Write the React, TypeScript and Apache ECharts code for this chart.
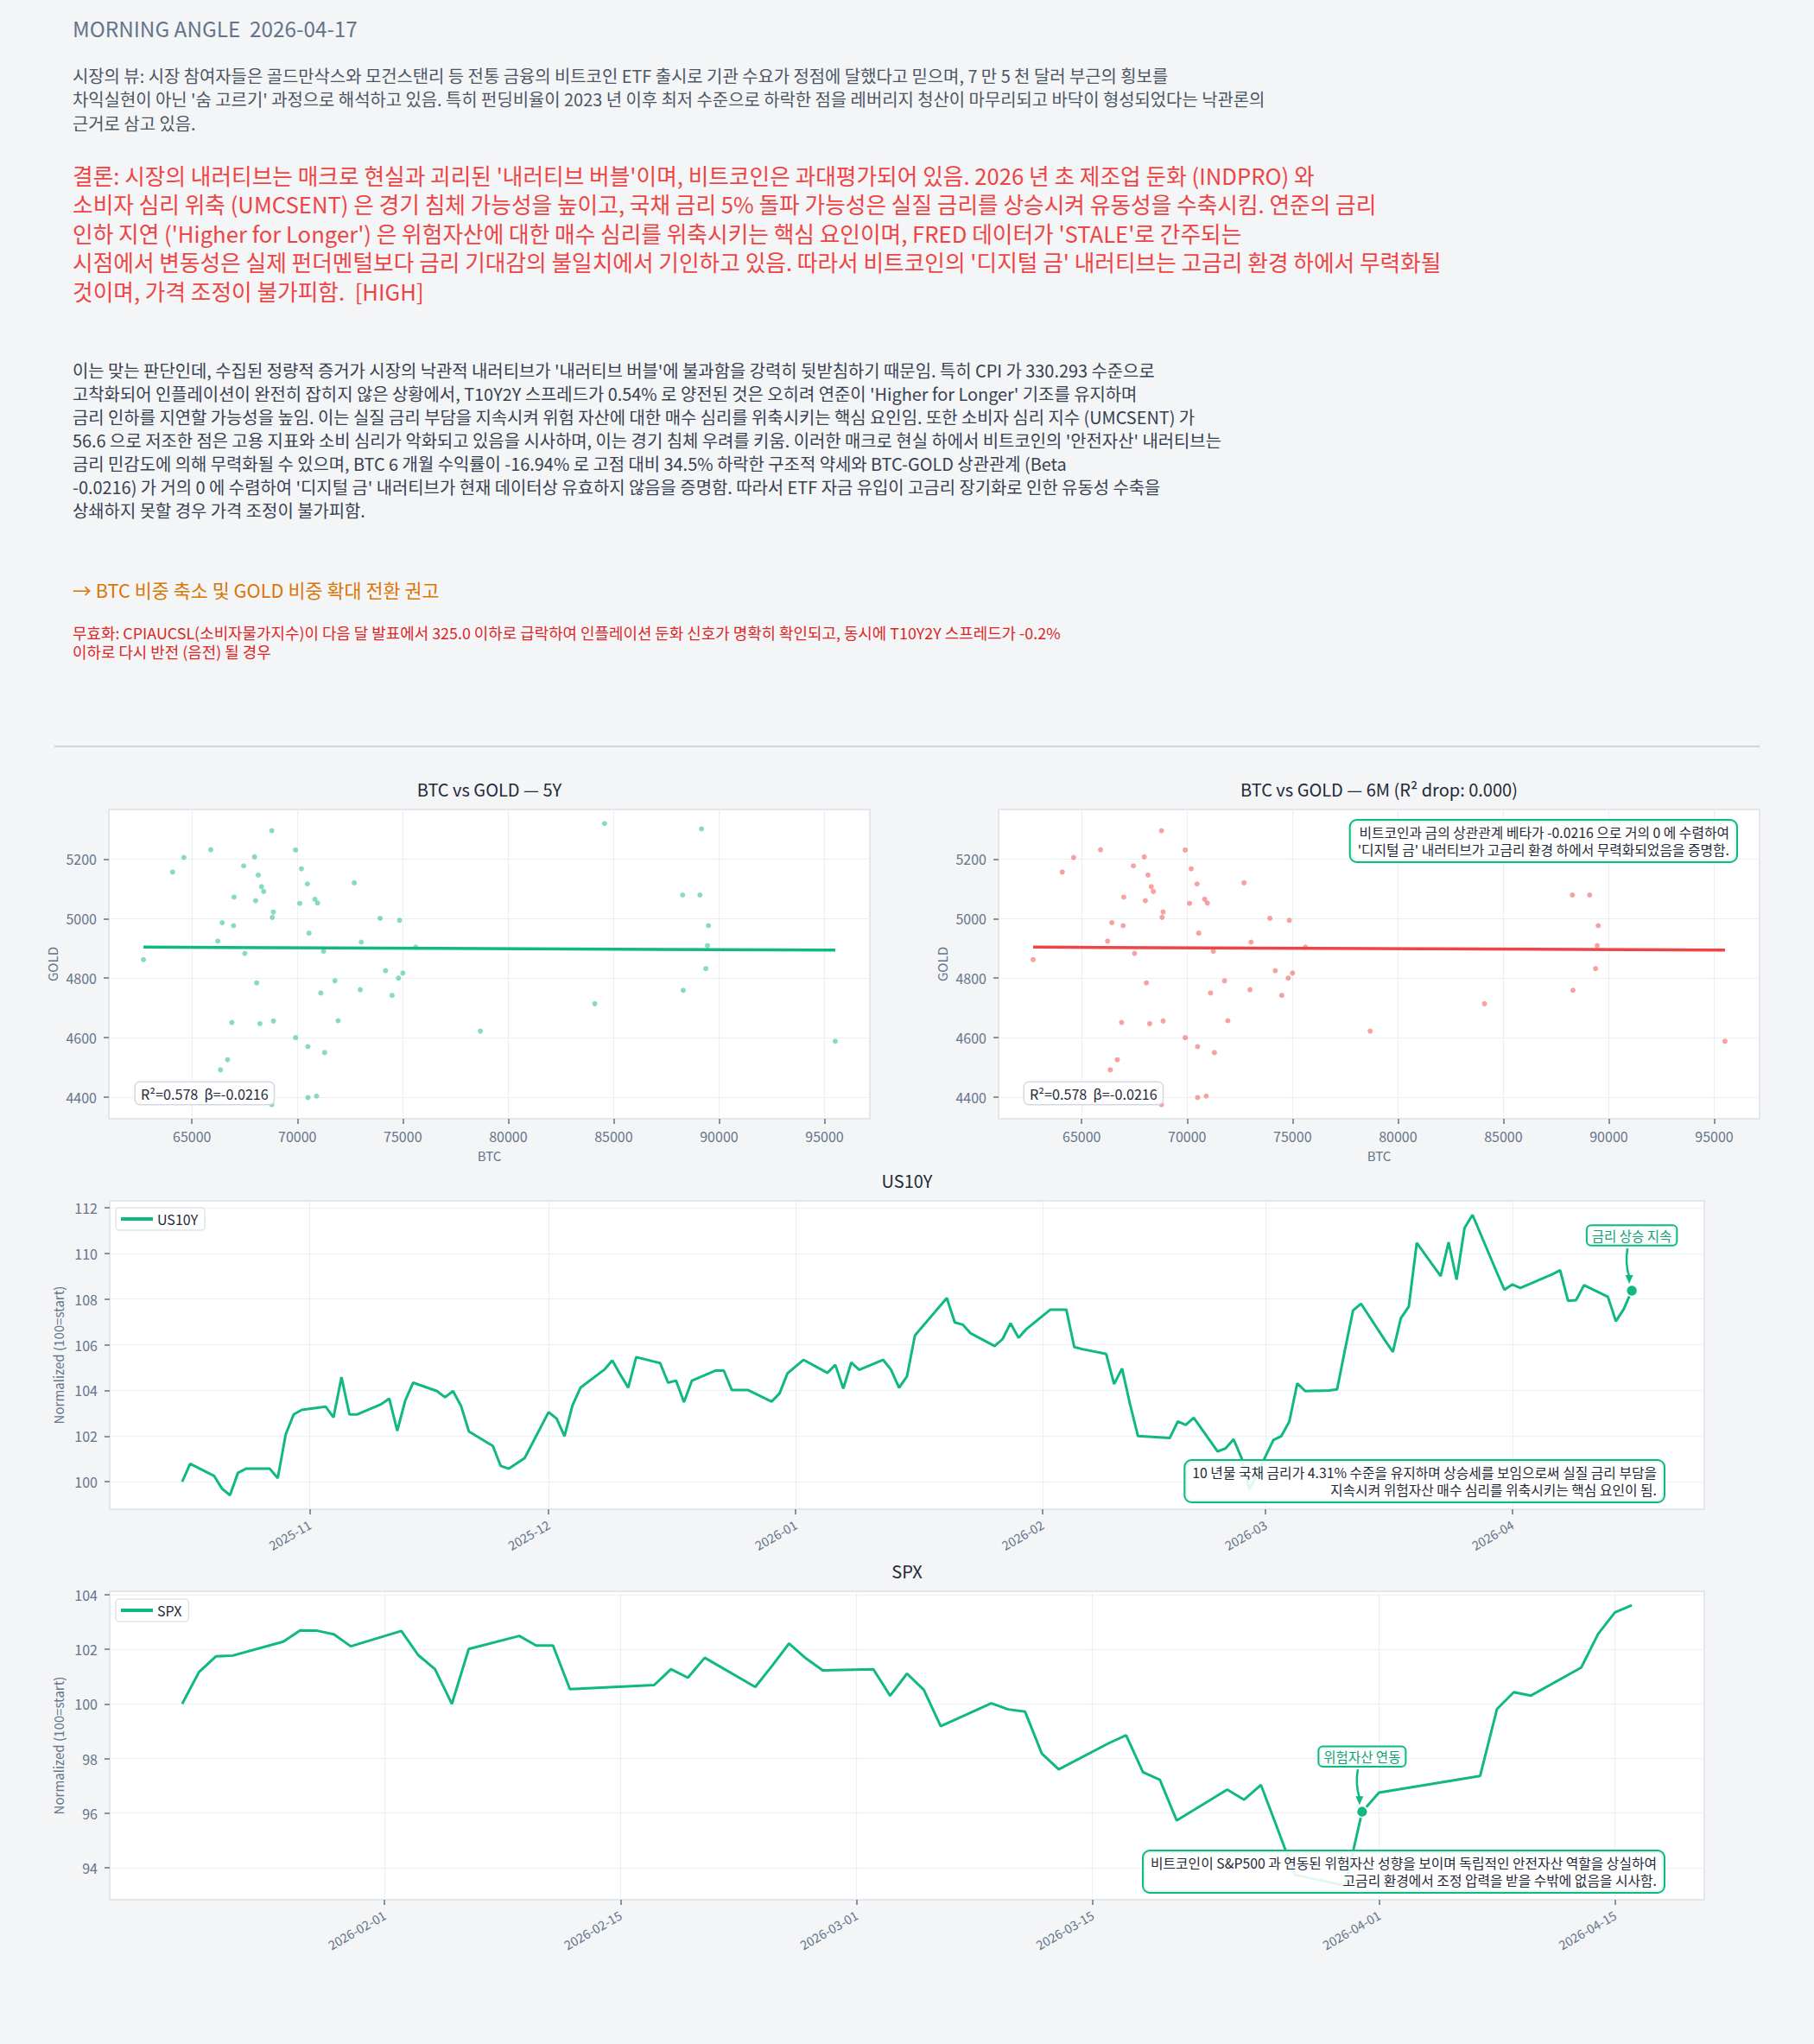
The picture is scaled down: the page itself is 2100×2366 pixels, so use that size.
import React, { useEffect, useRef } from "react";
import * as echarts from "echarts";

const FONT = '"Noto Sans CJK KR", "Noto Sans CJK SC", "Noto Sans", sans-serif';
const BG = "#f4f5f7";
const GREEN = "#10b981";
const GREEN_TEXT = "#0e9f6e";
const RED = "#ef4444";
const AXIS_TEXT = "#64748b";
const DARK = "#1f2937";

// ---------------- texts ----------------
const HEADER = "MORNING ANGLE  2026-04-17";
const VIEW_LINES = [
  "시장의 뷰: 시장 참여자들은 골드만삭스와 모건스탠리 등 전통 금융의 비트코인 ETF 출시로 기관 수요가 정점에 달했다고 믿으며, 7 만 5 천 달러 부근의 횡보를",
  "차익실현이 아닌 '숨 고르기' 과정으로 해석하고 있음. 특히 펀딩비율이 2023 년 이후 최저 수준으로 하락한 점을 레버리지 청산이 마무리되고 바닥이 형성되었다는 낙관론의",
  "근거로 삼고 있음.",
];
const CONCLUSION_LINES = [
  "결론: 시장의 내러티브는 매크로 현실과 괴리된 '내러티브 버블'이며, 비트코인은 과대평가되어 있음. 2026 년 초 제조업 둔화 (INDPRO) 와",
  "소비자 심리 위축 (UMCSENT) 은 경기 침체 가능성을 높이고, 국채 금리 5% 돌파 가능성은 실질 금리를 상승시켜 유동성을 수축시킴. 연준의 금리",
  "인하 지연 ('Higher for Longer') 은 위험자산에 대한 매수 심리를 위축시키는 핵심 요인이며, FRED 데이터가 'STALE'로 간주되는",
  "시점에서 변동성은 실제 펀더멘털보다 금리 기대감의 불일치에서 기인하고 있음. 따라서 비트코인의 '디지털 금' 내러티브는 고금리 환경 하에서 무력화될",
  "것이며, 가격 조정이 불가피함.  [HIGH]",
];
const BODY_LINES = [
  "이는 맞는 판단인데, 수집된 정량적 증거가 시장의 낙관적 내러티브가 '내러티브 버블'에 불과함을 강력히 뒷받침하기 때문임. 특히 CPI 가 330.293 수준으로",
  "고착화되어 인플레이션이 완전히 잡히지 않은 상황에서, T10Y2Y 스프레드가 0.54% 로 양전된 것은 오히려 연준이 'Higher for Longer' 기조를 유지하며",
  "금리 인하를 지연할 가능성을 높임. 이는 실질 금리 부담을 지속시켜 위험 자산에 대한 매수 심리를 위축시키는 핵심 요인임. 또한 소비자 심리 지수 (UMCSENT) 가",
  "56.6 으로 저조한 점은 고용 지표와 소비 심리가 악화되고 있음을 시사하며, 이는 경기 침체 우려를 키움. 이러한 매크로 현실 하에서 비트코인의 '안전자산' 내러티브는",
  "금리 민감도에 의해 무력화될 수 있으며, BTC 6 개월 수익률이 -16.94% 로 고점 대비 34.5% 하락한 구조적 약세와 BTC-GOLD 상관관계 (Beta",
  "-0.0216) 가 거의 0 에 수렴하여 '디지털 금' 내러티브가 현재 데이터상 유효하지 않음을 증명함. 따라서 ETF 자금 유입이 고금리 장기화로 인한 유동성 수축을",
  "상쇄하지 못할 경우 가격 조정이 불가피함.",
];
const RECO = "→ BTC 비중 축소 및 GOLD 비중 확대 전환 권고";
const INVALID_LINES = [
  "무효화: CPIAUCSL(소비자물가지수)이 다음 달 발표에서 325.0 이하로 급락하여 인플레이션 둔화 신호가 명확히 확인되고, 동시에 T10Y2Y 스프레드가 -0.2%",
  "이하로 다시 반전 (음전) 될 경우",
];

const TITLE_5Y = "BTC vs GOLD — 5Y";
const TITLE_6M = "BTC vs GOLD — 6M (R² drop: 0.000)";
const STAT_LABEL = "R²=0.578  β=-0.0216";
const NOTE_6M = [
  "비트코인과 금의 상관관계 베타가 -0.0216 으로 거의 0 에 수렴하여",
  "'디지털 금' 내러티브가 고금리 환경 하에서 무력화되었음을 증명함.",
];
const NOTE_US10Y = [
  "10 년물 국채 금리가 4.31% 수준을 유지하며 상승세를 보임으로써 실질 금리 부담을",
  "지속시켜 위험자산 매수 심리를 위축시키는 핵심 요인이 됨.",
];
const NOTE_SPX = [
  "비트코인이 S&P500 과 연동된 위험자산 성향을 보이며 독립적인 안전자산 역할을 상실하여",
  "고금리 환경에서 조정 압력을 받을 수밖에 없음을 시사함.",
];
const POINTER_US10Y = "금리 상승 지속";
const POINTER_SPX = "위험자산 연동";
const Y_NAME = "Normalized (100=start)";

// ---------------- data ----------------
const BTC = [
  62698, 64079, 64616, 65895, 66228, 66432, 66969, 66995, 66893, 66688, 66355, 67455, 67506, 67967,
  68018, 68146, 68299, 68401, 68069, 68222, 68785, 68811, 68862, 68862, 68785, 69910, 70192, 70115,
  70473, 70550, 70831, 70959, 71240, 71112, 69910, 70499, 71292, 70499, 70908, 71777, 71931, 72698,
  73031, 72980, 73925, 74181, 74488, 74795, 74846, 75000, 75614, 78682, 84104, 84565, 88273, 88299,
  89091, 89168, 89500, 89449, 89372, 95511,
];
const GOLD = [
  4862, 5156, 5205, 5231, 4924, 4986, 4976, 5072, 4651, 4526, 4492, 5177, 4883, 5207,
  5060, 5146, 5107, 5091, 4784, 4647, 5295, 5004, 5022, 4656, 4375, 5230, 5167, 5051,
  5116, 4951, 5065, 5052, 4890, 4750, 4600, 4570, 4550, 4399, 4404, 4791, 4657, 5120,
  4921, 4761, 5001, 4825, 4742, 4800, 4994, 4817, 4904, 4622, 4714, 5319, 5079, 4759,
  5079, 5301, 4976, 4909, 4832, 4588,
];
const REG_BTC = [62698, 95511];
const REG_GOLD = [4904, 4894];
const BTC_TICKS = [65000, 70000, 75000, 80000, 85000, 90000, 95000];
const GOLD_TICKS = [4400, 4600, 4800, 5000, 5200];

const US10Y_DATES = [
  "2025-10-16", "2025-10-17", "2025-10-20", "2025-10-21", "2025-10-22", "2025-10-23", "2025-10-24",
  "2025-10-27", "2025-10-28", "2025-10-29", "2025-10-30", "2025-10-31", "2025-11-03", "2025-11-04",
  "2025-11-05", "2025-11-06", "2025-11-07", "2025-11-10", "2025-11-11", "2025-11-12", "2025-11-13",
  "2025-11-14", "2025-11-17", "2025-11-18", "2025-11-19", "2025-11-20", "2025-11-21", "2025-11-24",
  "2025-11-25", "2025-11-26", "2025-11-28", "2025-12-01", "2025-12-02", "2025-12-03", "2025-12-04",
  "2025-12-05", "2025-12-08", "2025-12-09", "2025-12-10", "2025-12-11", "2025-12-12", "2025-12-15",
  "2025-12-16", "2025-12-17", "2025-12-18", "2025-12-19", "2025-12-22", "2025-12-23", "2025-12-24",
  "2025-12-26", "2025-12-29", "2025-12-30", "2025-12-31", "2026-01-02", "2026-01-05", "2026-01-06",
  "2026-01-07", "2026-01-08", "2026-01-09", "2026-01-12", "2026-01-13", "2026-01-14", "2026-01-15",
  "2026-01-16", "2026-01-20", "2026-01-21", "2026-01-22", "2026-01-23", "2026-01-26", "2026-01-27",
  "2026-01-28", "2026-01-29", "2026-01-30", "2026-02-02", "2026-02-03", "2026-02-04", "2026-02-05",
  "2026-02-06", "2026-02-09", "2026-02-10", "2026-02-11", "2026-02-12", "2026-02-13", "2026-02-17",
  "2026-02-18", "2026-02-19", "2026-02-20", "2026-02-23", "2026-02-24", "2026-02-25", "2026-02-26",
  "2026-02-27", "2026-03-02", "2026-03-03", "2026-03-04", "2026-03-05", "2026-03-06", "2026-03-09",
  "2026-03-10", "2026-03-11", "2026-03-12", "2026-03-13", "2026-03-16", "2026-03-17", "2026-03-18",
  "2026-03-19", "2026-03-20", "2026-03-23", "2026-03-24", "2026-03-25", "2026-03-26", "2026-03-27",
  "2026-03-30", "2026-03-31", "2026-04-01", "2026-04-02", "2026-04-06", "2026-04-07", "2026-04-08",
  "2026-04-09", "2026-04-10", "2026-04-13", "2026-04-14", "2026-04-15", "2026-04-16",
];
const US10Y_VALUES = [
  100.0, 100.79, 100.26, 99.7, 99.41, 100.39, 100.57,
  100.57, 100.16, 102.08, 102.95, 103.15, 103.29, 102.82,
  104.58, 102.95, 102.95, 103.4, 103.64, 102.23, 103.55,
  104.34, 103.97, 103.7, 103.97, 103.33, 102.2, 101.57,
  100.69, 100.57, 101.04, 103.05, 102.77, 102.0, 103.34,
  104.12, 104.91, 105.31, 104.7, 104.12, 105.46, 105.2,
  104.34, 104.43, 103.49, 104.43, 104.87, 104.87, 104.02,
  104.02, 103.51, 103.87, 104.75, 105.34, 104.77, 105.12,
  104.08, 105.22, 104.9, 105.34, 104.9, 104.12, 104.62,
  106.41, 108.05, 106.98, 106.88, 106.5, 105.94, 106.25,
  106.94, 106.31, 106.69, 107.54, 107.54, 107.54, 105.9,
  105.81, 105.6, 104.28, 104.96, 103.4, 102.0, 101.92,
  102.64, 102.49, 102.8, 101.33, 101.46, 101.86, 101.04,
  99.66, 101.83, 102.0, 102.64, 104.31, 103.97, 104.0,
  104.05, 105.8, 107.5, 107.8, 106.2, 105.69, 107.16,
  107.67, 110.46, 109.01, 110.49, 108.85, 111.11, 111.69,
  109.21, 108.41, 108.64, 108.49, 109.08, 109.26, 107.92,
  107.95, 108.61, 108.1, 107.03, 107.57, 108.37,
];
const US10Y_TICKS = ["2025-11", "2025-12", "2026-01", "2026-02", "2026-03", "2026-04"];
const US10Y_Y_TICKS = [100, 102, 104, 106, 108, 110, 112];

const SPX_DATES = [
  "2026-01-20", "2026-01-21", "2026-01-22", "2026-01-23", "2026-01-26", "2026-01-27", "2026-01-28",
  "2026-01-29", "2026-01-30", "2026-02-02", "2026-02-03", "2026-02-04", "2026-02-05", "2026-02-06",
  "2026-02-09", "2026-02-10", "2026-02-11", "2026-02-12", "2026-02-17", "2026-02-18", "2026-02-19",
  "2026-02-20", "2026-02-23", "2026-02-24", "2026-02-25", "2026-02-26", "2026-02-27", "2026-03-02",
  "2026-03-03", "2026-03-04", "2026-03-05", "2026-03-06", "2026-03-09", "2026-03-10", "2026-03-11",
  "2026-03-12", "2026-03-13", "2026-03-16", "2026-03-17", "2026-03-18", "2026-03-19", "2026-03-20",
  "2026-03-23", "2026-03-24", "2026-03-25", "2026-03-26", "2026-03-27", "2026-03-30", "2026-03-31",
  "2026-04-01", "2026-04-07", "2026-04-08", "2026-04-09", "2026-04-10", "2026-04-13", "2026-04-14",
  "2026-04-15", "2026-04-16",
];
const SPX_VALUES = [
  100.0, 101.17, 101.74, 101.77, 102.28, 102.69, 102.68,
  102.55, 102.11, 102.67, 101.79, 101.27, 100.0, 102.01,
  102.49, 102.14, 102.14, 100.54, 100.69, 101.27, 100.96,
  101.69, 100.62, 101.4, 102.21, 101.67, 101.23, 101.27,
  100.3, 101.11, 100.51, 99.18, 100.02, 99.8, 99.72,
  98.18, 97.6, 98.57, 98.85, 97.5, 97.22, 95.73,
  96.86, 96.49, 97.03, 95.4, 93.74, 93.34, 96.05,
  96.75, 97.36, 99.81, 100.43, 100.3, 101.33, 102.56,
  103.35, 103.61,
];
const SPX_TICKS = ["2026-02-01", "2026-02-15", "2026-03-01", "2026-03-15", "2026-04-01", "2026-04-15"];
const SPX_Y_TICKS = [94, 96, 98, 100, 102, 104];
const SPX_POINTER_DATE = "2026-03-31";

// ---------------- layout ----------------
const GRIDS = [
  { left: 126, top: 937, width: 881, height: 358 },
  { left: 1156, top: 937, width: 881, height: 358 },
  { left: 127, top: 1390, width: 1846, height: 357 },
  { left: 127, top: 1842, width: 1846, height: 357 },
];

const toTs = (s: string) => Date.parse((s.length === 7 ? s + "-01" : s) + "T00:00:00Z");
const padded = (vals: number[], frac = 0.05) => {
  const mn = Math.min(...vals);
  const mx = Math.max(...vals);
  const p = (mx - mn) * frac;
  return [mn - p, mx + p];
};
const labelFor = (ticks: string[]) => {
  const tsList = ticks.map(toTs);
  return (v: number) => {
    for (let i = 0; i < tsList.length; i++) {
      if (Math.abs(tsList[i] - v) < 3600000) return ticks[i];
    }
    return "";
  };
};

function buildOption() {
  const scatterData = BTC.map((b, i) => [b, GOLD[i]]);
  const regData = REG_BTC.map((b, i) => [b, REG_GOLD[i]]);
  const [bMin, bMax] = padded(BTC);
  const [gMin, gMax] = padded(GOLD);
  const usTs = US10Y_DATES.map(toTs);
  const [uxMin, uxMax] = padded(usTs);
  const [uyMin, uyMax] = padded(US10Y_VALUES);
  const spTs = SPX_DATES.map(toTs);
  const [sxMin, sxMax] = padded(spTs);
  const [syMin, syMax] = padded(SPX_VALUES);

  const tick = { show: true, length: 6, lineStyle: { color: "#6b7280", width: 1.5 } };
  const split = { show: true, lineStyle: { color: "#eceff3", width: 1.2 } };
  const lbl = { color: AXIS_TEXT, fontSize: 16, fontFamily: FONT };
  const nameStyle = { color: AXIS_TEXT, fontSize: 15, fontFamily: FONT };

  const scatterX = (gi: number) => ({
    type: "value", gridIndex: gi, min: bMin, max: bMax,
    name: "BTC", nameLocation: "middle", nameGap: 35, nameTextStyle: nameStyle,
    axisLine: { show: false },
    axisTick: { ...tick, customValues: BTC_TICKS },
    axisLabel: { ...lbl, margin: 12, customValues: BTC_TICKS, formatter: (v: number) => String(v) },
    splitLine: split,
  });
  const scatterY = (gi: number) => ({
    type: "value", gridIndex: gi, min: gMin, max: gMax,
    name: "GOLD", nameLocation: "middle", nameGap: 58, nameTextStyle: nameStyle,
    axisLine: { show: false },
    axisTick: { ...tick, customValues: GOLD_TICKS },
    axisLabel: { ...lbl, margin: 14, customValues: GOLD_TICKS, formatter: (v: number) => String(v) },
    splitLine: split,
  });
  const dateX = (gi: number, mn: number, mx: number, ticks: string[]) => ({
    type: "value", gridIndex: gi, min: mn, max: mx,
    axisLine: { show: false },
    axisTick: { ...tick, customValues: ticks.map(toTs) },
    axisLabel: { ...lbl, fontSize: 14.5, rotate: 30, margin: 16, customValues: ticks.map(toTs), formatter: labelFor(ticks) },
    splitLine: split,
  });
  const normY = (gi: number, mn: number, mx: number, ticks: number[]) => ({
    type: "value", gridIndex: gi, min: mn, max: mx,
    name: Y_NAME, nameLocation: "middle", nameGap: 50, nameTextStyle: nameStyle,
    axisLine: { show: false },
    axisTick: { ...tick, customValues: ticks },
    axisLabel: { ...lbl, margin: 14, customValues: ticks, formatter: (v: number) => String(v) },
    splitLine: split,
  });

  const legendBase = {
    orient: "horizontal", icon: "rect", itemWidth: 37, itemHeight: 4, selectedMode: false,
    backgroundColor: "rgba(255,255,255,0.9)", borderColor: "#dfe3e8", borderWidth: 1.5, borderRadius: 4,
    padding: [5, 8, 5, 6], textStyle: { fontSize: 16, color: DARK, fontFamily: FONT },
  };

  const spIdx = SPX_DATES.indexOf(SPX_POINTER_DATE);
  const dot = { symbol: "circle", symbolSize: 13, itemStyle: { color: GREEN, borderColor: "#fff", borderWidth: 1.5 }, label: { show: false } };

  return {
    animation: false,
    backgroundColor: BG,
    textStyle: { fontFamily: FONT },
    grid: GRIDS.map((g) => ({
      ...g, show: true, backgroundColor: "#ffffff", borderColor: "#e3e6ea", borderWidth: 2, containLabel: false, outerBoundsMode: "none",
    })),
    legend: [
      { ...legendBase, data: ["US10Y"], left: 134, top: 1398 },
      { ...legendBase, data: ["SPX"], left: 134, top: 1851 },
    ],
    xAxis: [scatterX(0), scatterX(1), dateX(2, uxMin, uxMax, US10Y_TICKS), dateX(3, sxMin, sxMax, SPX_TICKS)],
    yAxis: [scatterY(0), scatterY(1), normY(2, uyMin, uyMax, US10Y_Y_TICKS), normY(3, syMin, syMax, SPX_Y_TICKS)],
    series: [
      { type: "scatter", xAxisIndex: 0, yAxisIndex: 0, data: scatterData, symbolSize: 6, itemStyle: { color: GREEN, opacity: 0.5 }, z: 3 },
      { type: "line", xAxisIndex: 0, yAxisIndex: 0, data: regData, symbol: "none", lineStyle: { color: GREEN, width: 3.5 }, z: 4 },
      { type: "scatter", xAxisIndex: 1, yAxisIndex: 1, data: scatterData, symbolSize: 6, itemStyle: { color: RED, opacity: 0.5 }, z: 3 },
      { type: "line", xAxisIndex: 1, yAxisIndex: 1, data: regData, symbol: "none", lineStyle: { color: RED, width: 3.5 }, z: 4 },
      {
        type: "line", name: "US10Y", xAxisIndex: 2, yAxisIndex: 2,
        data: usTs.map((t, i) => [t, US10Y_VALUES[i]]),
        showSymbol: false, symbol: "none", color: GREEN, lineStyle: { color: GREEN, width: 3 }, itemStyle: { color: GREEN },
        markPoint: { ...dot, data: [{ coord: [usTs[usTs.length - 1], US10Y_VALUES[US10Y_VALUES.length - 1]] }] },
      },
      {
        type: "line", name: "SPX", xAxisIndex: 3, yAxisIndex: 3,
        data: spTs.map((t, i) => [t, SPX_VALUES[i]]),
        showSymbol: false, symbol: "none", color: GREEN, lineStyle: { color: GREEN, width: 3 }, itemStyle: { color: GREEN },
        markPoint: { ...dot, data: [{ coord: [spTs[spIdx], SPX_VALUES[spIdx]] }] },
      },
    ],
  };
}

function textBlock(x: number, firstCenter: number, lines: string[], size: number, lh: number, color: string) {
  return {
    type: "text", x, y: firstCenter - lh / 2,
    style: { text: lines.join("\n"), fontSize: size, fontFamily: FONT, lineHeight: lh, fill: color, align: "left", verticalAlign: "top" },
  };
}

function calloutBox(right: number, top: number, lines: string[]) {
  return {
    type: "text", x: right, y: top, z: 100,
    style: {
      text: lines.join("\n"), fontSize: 15.8, fontFamily: FONT, lineHeight: 19.5, fill: DARK,
      align: "right", verticalAlign: "top",
      backgroundColor: "rgba(255,255,255,0.88)", borderColor: GREEN, borderWidth: 2, borderRadius: 7, padding: [4, 8],
    },
  };
}

function statBox(left: number, top: number) {
  return {
    type: "text", x: left, y: top, z: 100,
    style: {
      text: STAT_LABEL, fontSize: 16.2, fontFamily: FONT, lineHeight: 17, fill: DARK,
      align: "left", verticalAlign: "top",
      backgroundColor: "rgba(255,255,255,0.95)", borderColor: "#d5d9df", borderWidth: 1.5, borderRadius: 5, padding: [4, 6],
    },
  };
}

function pointer(p: number[], label: string) {
  const [px, py] = p;
  return [
    {
      type: "text", x: px, y: py - 64, z: 101,
      style: {
        text: label, fontSize: 15.5, fontFamily: FONT, fill: GREEN_TEXT, align: "center", verticalAlign: "middle",
        backgroundColor: "rgba(255,255,255,0.92)", borderColor: GREEN, borderWidth: 2, borderRadius: 4, padding: [3, 5],
      },
    },
    {
      type: "bezierCurve", z: 100,
      shape: { x1: px - 5, y1: py - 49, x2: px - 3, y2: py - 16, cpx1: px - 8, cpy1: py - 32 },
      style: { stroke: GREEN, lineWidth: 2.5, fill: null },
    },
    {
      type: "polygon", z: 100,
      shape: { points: [[px - 3, py - 8], [px - 7.5, py - 18], [px + 1.5, py - 18]] },
      style: { fill: GREEN },
    },
  ];
}

function buildGraphics(chart: any) {
  const els: any[] = [];
  els.push(textBlock(84, 32, [HEADER], 24.3, 30, "#64748b"));
  els.push(textBlock(84, 87, VIEW_LINES, 19.9, 27.5, "#4b5563"));
  els.push(textBlock(84, 202, CONCLUSION_LINES, 25.7, 33.5, RED));
  els.push(textBlock(84, 428, BODY_LINES, 19.9, 27, "#374151"));
  els.push(textBlock(84, 682, [RECO], 21.8, 26, "#d97706"));
  els.push(textBlock(84, 732, INVALID_LINES, 17.9, 22, "#dc2626"));
  els.push({ type: "line", shape: { x1: 63, y1: 864, x2: 2037, y2: 864 }, style: { stroke: "#cfd4da", lineWidth: 2 } });

  const titles = [TITLE_5Y, TITLE_6M, "US10Y", "SPX"];
  GRIDS.forEach((g, i) => {
    els.push({
      type: "text", x: g.left + g.width / 2, y: g.top - 24,
      style: { text: titles[i], fontSize: 20, fontFamily: FONT, fill: DARK, align: "center", verticalAlign: "middle" },
    });
  });

  els.push(statBox(GRIDS[0].left + 31, GRIDS[0].top + 316));
  els.push(statBox(GRIDS[1].left + 30, GRIDS[1].top + 316));
  els.push(calloutBox(GRIDS[1].left + GRIDS[1].width - 27, GRIDS[1].top + 13, NOTE_6M));
  els.push(calloutBox(GRIDS[2].left + GRIDS[2].width - 47, GRIDS[2].top + 301, NOTE_US10Y));
  els.push(calloutBox(GRIDS[3].left + GRIDS[3].width - 47, GRIDS[3].top + 301, NOTE_SPX));

  const usLast = US10Y_DATES.length - 1;
  const pUs = chart.convertToPixel({ gridIndex: 2 }, [toTs(US10Y_DATES[usLast]), US10Y_VALUES[usLast]]);
  const spIdx = SPX_DATES.indexOf(SPX_POINTER_DATE);
  const pSp = chart.convertToPixel({ gridIndex: 3 }, [toTs(SPX_DATES[spIdx]), SPX_VALUES[spIdx]]);
  if (pUs) els.push(...pointer(pUs, POINTER_US10Y));
  if (pSp) els.push(...pointer(pSp, POINTER_SPX));
  return els;
}

export default function App() {
  const ref = useRef<HTMLDivElement>(null);
  useEffect(() => {
    document.body.style.margin = "0";
    document.body.style.background = BG;
    const chart = echarts.init(ref.current as HTMLDivElement, null, { renderer: "svg", width: 2100, height: 2366 });
    chart.setOption(buildOption() as any);
    chart.setOption({ graphic: { elements: buildGraphics(chart) } } as any);
    return () => chart.dispose();
  }, []);
  return <div ref={ref} style={{ width: 2100, height: 2366, background: BG }} />;
}
